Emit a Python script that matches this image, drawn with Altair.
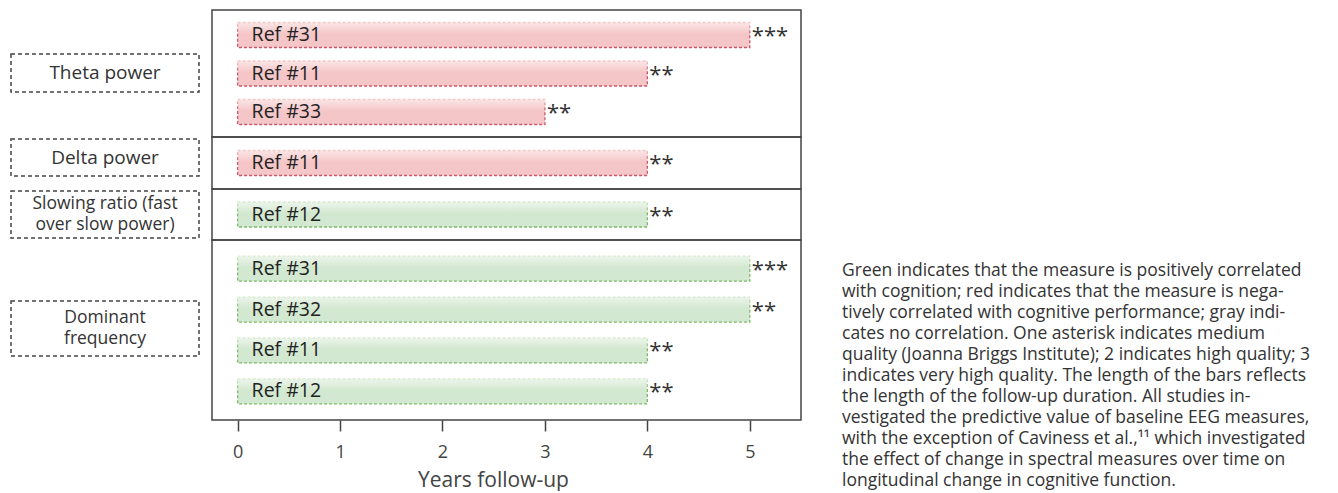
import altair as alt
import pandas as pd

# ---------------- data ----------------
group_lines = [["Theta power"], ["Delta power"], ["Slowing ratio (fast", "over slow power)"], ["Dominant", "frequency"]]
group_sign = ["negative", "negative", "positive", "positive"]
refs = [["Ref #31", "Ref #11", "Ref #33"], ["Ref #11"], ["Ref #12"], ["Ref #31", "Ref #32", "Ref #11", "Ref #12"]]
years = [[5, 4, 3], [4], [4], [5, 5, 4, 4]]
stars = [["***", "**", "**"], ["**"], ["**"], ["***", "**", "**", "**"]]
x_ticks = [0, 1, 2, 3, 4, 5]
caption_lines = [
    "Green indicates that the measure is positively correlated",
    "with cognition; red indicates that the measure is nega-",
    "tively correlated with cognitive performance; gray indi-",
    "cates no correlation. One asterisk indicates medium",
    "quality (Joanna Briggs Institute); 2 indicates high quality; 3",
    "indicates very high quality. The length of the bars reflects",
    "the length of the follow-up duration. All studies in-",
    "vestigated the predictive value of baseline EEG measures,",
    "with the exception of Caviness et al.,\u00b9\u00b9 which investigated",
    "the effect of change in spectral measures over time on",
    "longitudinal change in cognitive function.",
]

# ---------------- layout / style ----------------
FONT = "Open Sans"
panel_h = [127, 52, 51, 180]
pad_outer = [0.15, 0.0, 0.0, 0.2]
box_center = [63, 20.5, 25.5, 88.5]
box_h = [38, 37, 47, 55]
PLOT_W = 589
LINE_H = 21
BOX_X0, BOX_X1, LABEL_XC = -201, -13, -107

def grad(top, bottom):
    return alt.Gradient(
        gradient="linear",
        stops=[alt.GradientStop(color=top, offset=0), alt.GradientStop(color=bottom, offset=0.45),
               alt.GradientStop(color=bottom, offset=1)],
        x1=0, x2=0, y1=0, y2=1,
    )

styles = {
    "negative": dict(fill=grad("#fbe6e6", "#f5c6c8"), stroke=grad("#f3caca", "#c9566a")),
    "positive": dict(fill=grad("#edf5ec", "#d3e8d0"), stroke=grad("#d8eccf", "#7db86a")),
}

xscale = alt.Scale(domain=[-0.25, 5.5], nice=False, zero=False)

panels = []
for gi in range(4):
    df = pd.DataFrame({
        "slot": list(range(len(refs[gi]))),
        "ref": refs[gi],
        "years": years[gi],
        "stars": stars[gi],
    })
    last = gi == 3
    axis = alt.Axis(values=x_ticks, grid=False, domain=False, tickSize=11, tickWidth=1.5,
                    tickColor="#444", labelFontSize=18, labelColor="#444", labelFont=FONT,
                    labelPadding=12, title="Years follow-up", titleFontSize=21,
                    titleFontWeight="normal", titleColor="#444", titleFont=FONT,
                    titlePadding=8, titleX=281, format="d") if last else None
    yenc = alt.Y("slot:O", axis=None, sort=None,
                 scale=alt.Scale(paddingInner=0, paddingOuter=pad_outer[gi]))
    base = alt.Chart(df)
    st = styles[group_sign[gi]]
    bars = base.mark_bar(height=25, fill=st["fill"], stroke=st["stroke"], strokeDash=[3, 2],
                         strokeWidth=1.3).encode(
        x=alt.X("years:Q", scale=xscale, axis=axis), y=yenc)
    reftext = base.mark_text(align="left", baseline="middle", dx=14, fontSize=19.5, font=FONT,
                             color="#222").encode(x=alt.X(datum=0, scale=xscale), y=yenc, text="ref:N")
    startext = base.mark_text(align="left", baseline="middle", dx=2, dy=1, fontSize=22, font=FONT,
                              color="#333").encode(x=alt.X("years:Q", scale=xscale), y=yenc, text="stars:N")

    ldf = pd.DataFrame({"lines": [group_lines[gi]]})
    c = box_center[gi]
    h = box_h[gi]
    n = len(group_lines[gi])
    lbase = alt.Chart(ldf)
    box = lbase.mark_rect(fill="transparent", stroke="#444", strokeDash=[4, 3], strokeWidth=1.5).encode(
        x=alt.value(BOX_X0), x2=alt.value(BOX_X1), y=alt.value(c - h / 2), y2=alt.value(c + h / 2))
    ltxt = lbase.mark_text(align="center", baseline="middle", fontSize=19 if n == 1 else 17.5,
                           font=FONT, color="#333", lineHeight=LINE_H).encode(
        x=alt.value(LABEL_XC), y=alt.value(c - (n - 1) * LINE_H / 2), text="lines")
    layers = [bars, reftext, startext, box, ltxt]
    if last:
        cdf = pd.DataFrame({"text": [caption_lines]})
        caption = alt.Chart(cdf).mark_text(align="left", baseline="middle", fontSize=17.5, font=FONT,
                                           color="#333", lineHeight=21).encode(
            x=alt.value(630), y=alt.value(31), text="text")
        layers.append(caption)
    panels.append(alt.layer(*layers).properties(width=PLOT_W, height=panel_h[gi]))

chart = alt.vconcat(*panels, spacing=0, bounds="flush").properties(
    padding={"left": 1, "top": 1, "right": 0, "bottom": 0}
).configure_view(stroke="#444", strokeWidth=1.5).configure_concat(spacing=0)

chart.save("out.html", embed_options={"renderer": "svg", "actions": False})
